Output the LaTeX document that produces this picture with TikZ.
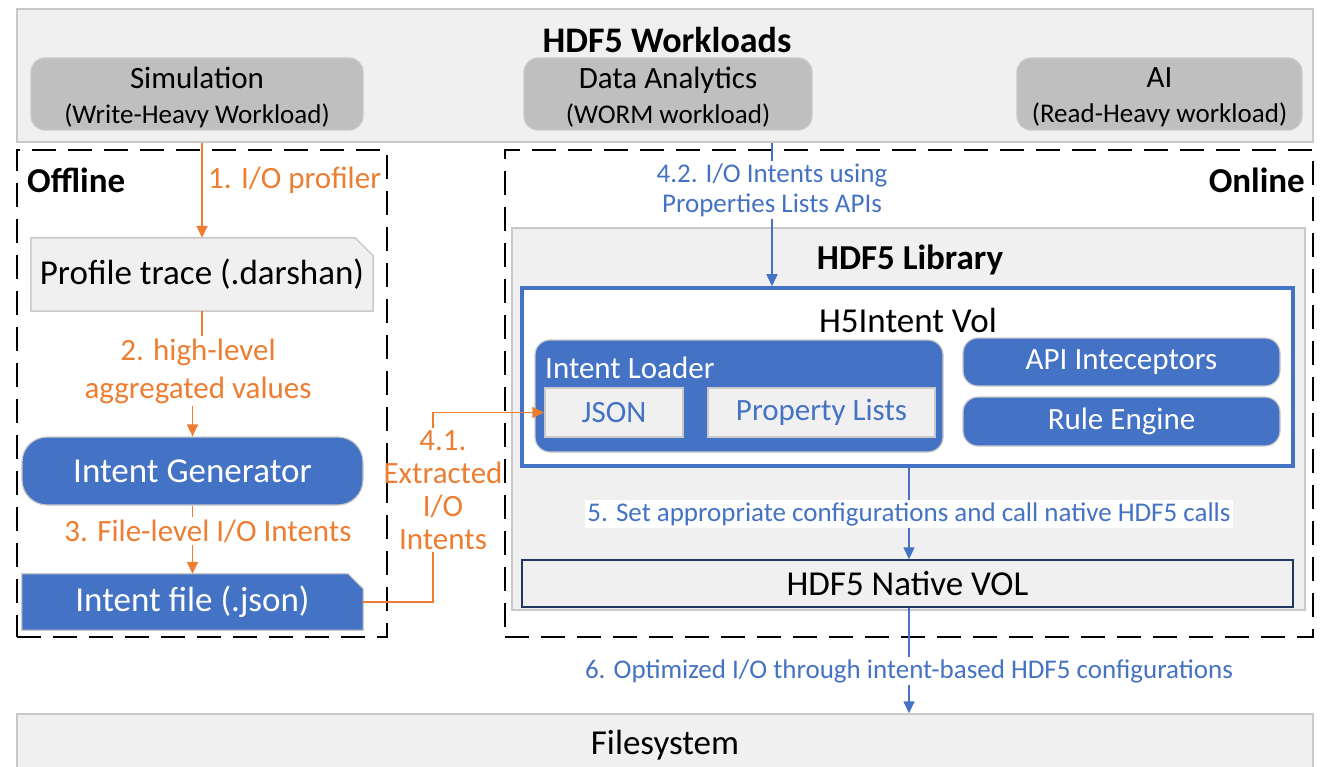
\documentclass[tikz,border=0pt]{standalone}
\usepackage{fontspec}
\setmainfont{Carlito}
\usetikzlibrary{arrows.meta,calc}
\definecolor{accblue}{HTML}{4472C4}
\definecolor{accorange}{HTML}{ED7D31}
\definecolor{panel}{HTML}{F0F0F0}
\definecolor{panelline}{HTML}{C9C9C9}
\definecolor{wkfill}{HTML}{BFBFBF}
\definecolor{navyline}{HTML}{1F3864}
\pgfdeclarelayer{bg}
\pgfsetlayers{bg,main}
\newcommand\fsL{\fontsize{35}{40}\selectfont}
\newcommand\fsM{\fontsize{31}{35}\selectfont}
\newcommand\fsS{\fontsize{27}{30}\selectfont}
\begin{document}
\begin{tikzpicture}[x=1pt,y=-1pt,
  box/.style={inner sep=0pt, anchor=center},
  panelbox/.style={box, fill=panel, draw=panelline, line width=1.5pt},
  workbox/.style={box, fill=wkfill, draw=panelline, line width=1.2pt, rounded corners=14pt},
  worktext/.style={align=center, font=\fsM, inner sep=0pt},
  bluebox/.style={box, fill=accblue, draw=panelline, line width=1.2pt, text=white},
  zone/.style={draw=black, line width=1.6pt, dash pattern=on 24pt off 12pt},
  orangeflow/.style={draw=accorange, line width=1.6pt},
  blueflow/.style={draw=accblue, line width=1.6pt},
  tipA/.style={-{Triangle[length=12pt,width=11pt]}},
  olabel/.style={text=accorange, font=\fsM, align=center, inner sep=2pt},
  blabel/.style={text=accblue, font=\fsS, align=center, inner sep=2pt},
  heading/.style={font=\fsL\bfseries, inner sep=0pt}]
\useasboundingbox (0,0) rectangle (1330,767);

% workloads panel
\node[panelbox, minimum width=1296pt, minimum height=133pt] (top) at (665,75.5) {};
\node[heading, font=\fontsize{36}{40}\selectfont\bfseries] (wtitle) at (667,40) {HDF5 Workloads};
\node[workbox, minimum width=332pt, minimum height=72pt] (sim) at (197,94) {};
\node[workbox, minimum width=288pt, minimum height=72pt] (da) at (668,94) {};
\node[workbox, minimum width=285pt, minimum height=72pt] (ai) at (1159.5,94) {};
\node[worktext] (simt) at ($(sim.center)+(0,3)$) {Simulation\\{\fsS (Write-Heavy Workload)}};
\node[worktext] (dat) at ($(da.center)+(0,3)$) {Data Analytics\\{\fsS (WORM workload)}};
\node[worktext] (ait) at ($(ai.center)+(0,3)$) {AI\\{\fsS (Read-Heavy workload)}};

% offline / online zones
\node[box, zone, minimum width=370pt, minimum height=487pt] (offline) at (202,393.5) {};
\node[box, zone, minimum width=808pt, minimum height=487pt] (online) at (909,393.5) {};
\node[heading, anchor=west] (offt) at (27,180) {Offline};
\node[heading, anchor=east] (ont) at (1305,180) {Online};

% offline pipeline
\node[box, minimum width=342pt, minimum height=73pt, font=\fsL] (prof) at (202,274.5) {Profile trace (.darshan)};
\node[bluebox, rounded corners=25pt, minimum width=341pt, minimum height=68pt, font=\fsL] (gen) at (192.5,471) {Intent Generator};
\node[box, minimum width=341pt, minimum height=56pt, font=\fsL, text=white] (ifile) at (192.5,602) {Intent file (.json)};
\begin{pgfonlayer}{bg}
  \filldraw[fill=panel, draw=panelline, line width=1.5pt]
    (prof.south west) -- (prof.north west) -- ($(prof.north east)+(-18,0)$)
    -- ($(prof.north east)+(0,18)$) -- (prof.south east) -- cycle;
  \filldraw[fill=accblue, draw=panelline, line width=1.2pt]
    (ifile.south west) -- (ifile.north west) -- ($(ifile.north east)+(-15,0)$)
    -- ($(ifile.north east)+(0,15)$) -- (ifile.south east) -- cycle;
\end{pgfonlayer}

% HDF5 library
\node[panelbox, minimum width=793pt, minimum height=382pt] (lib) at (908.5,419) {};
\node[heading] (libt) at (910,260) {HDF5 Library};
\node[box, fill=white, draw=accblue, line width=3.5pt, minimum width=771pt, minimum height=178pt] (vol) at (907.5,377) {};
\node[font=\fsL, inner sep=0pt] (volt) at (908,320) {H5Intent Vol};
\node[bluebox, rounded corners=15pt, minimum width=408pt, minimum height=112pt] (loader) at (739,396) {};
\node[font=\fsM, text=white, anchor=west, inner sep=0pt] (loadert) at (545,368) {Intent Loader};
\node[box, fill=panel, draw=panelline, line width=1.5pt, minimum width=138pt, minimum height=49pt, font=\fsM, text=accblue] (json) at (614,412.5) {JSON};
\node[box, fill=panel, draw=panelline, line width=1.5pt, minimum width=227pt, minimum height=49pt, font=\fsM, text=accblue] (plist) at (821.5,412.5) {Property Lists};
\node[bluebox, rounded corners=15pt, minimum width=317pt, minimum height=48pt, font=\fsM] (api) at (1121.5,362) {API Inteceptors};
\node[bluebox, rounded corners=15pt, minimum width=317pt, minimum height=49pt, font=\fsM] (rule) at (1121.5,421.5) {Rule Engine};
\node[box, fill=panel, draw=navyline, line width=1.5pt, minimum width=771pt, minimum height=47pt, font=\fsL] (native) at (907.5,583.5) {HDF5 Native VOL};

% filesystem
\node[panelbox, minimum width=1296pt, minimum height=62pt, font=\fsL] (fs) at (665,745) {Filesystem};

% step 1
\draw[orangeflow, tipA] (prof.north |- top.south) -- (prof.north);
\node[olabel, anchor=west] (l1) at (206,180) {1. I/O profiler};

% step 2
\node[olabel, font=\fontsize{31}{38}\selectfont] (l2) at (198,371) {2. high-level\\aggregated values};
\draw[orangeflow] (prof.south) -- (prof.south |- l2.north);
\draw[orangeflow, tipA] (gen.north |- l2.south) -- (gen.north);

% step 3
\node[olabel] (l3) at (208,531) {3. File-level I/O Intents};
\draw[orangeflow] (gen.south) -- (gen.south |- l3.north);
\draw[orangeflow, tipA] (ifile.north |- l3.south) -- (ifile.north);

% step 4.1
\coordinate (bend) at (433,0);
\node[olabel, font=\fontsize{31}{33}\selectfont] (l41) at (443,490) {4.1.\\Extracted\\I/O\\Intents};
\draw[orangeflow] (ifile.east) -- (ifile.east -| bend) -- (bend |- l41.south);
\draw[orangeflow, tipA] (bend |- l41.north) -- (bend |- json.west) -- (json.west);

% step 4.2
\node[blabel] (l42) at (772,190) {4.2. I/O Intents using\\Properties Lists APIs};
\draw[blueflow] (l42 |- top.south) -- (l42.north);
\draw[blueflow, tipA] (l42.south) -- (l42 |- vol.north);

% step 5
\draw[blueflow, tipA] (909,0 |- vol.south) -- (909,0 |- native.north);
\node[blabel, fill=white] (l5) at (909,514) {5. Set appropriate configurations and call native HDF5 calls};

% step 6
\draw[blueflow, tipA] (909,0 |- native.south) -- (909,0 |- fs.north);
\node[blabel, fill=white] (l6) at (909,671) {6. Optimized I/O through intent-based HDF5 configurations};
\end{tikzpicture}
\end{document}
